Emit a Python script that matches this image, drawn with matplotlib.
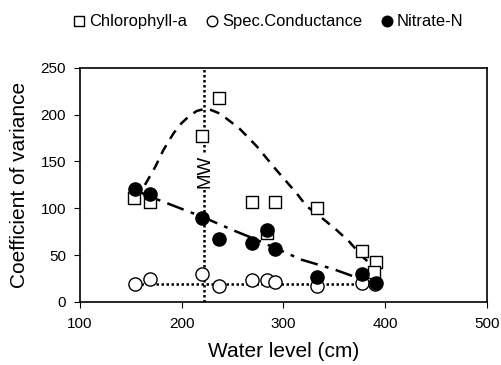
import matplotlib
matplotlib.use('Agg')
import matplotlib.pyplot as plt

plt.rcParams['font.family'] = ['Liberation Sans', 'DejaVu Sans']

# Water level (cm) of the sampling dates
chl_x = [153, 169, 220, 237, 269, 292, 284, 333, 377, 391, 389]
chl_y = [111, 107, 177, 218, 107, 107, 74, 100, 54, 43, 32]

no3_x = [154, 169, 220, 237, 269, 284, 292, 333, 377, 391]
no3_y = [121, 115, 90, 67, 63, 77, 56, 27, 30, 20]

cond_x = [154, 169, 220, 237, 269, 284, 292, 333, 377, 390]
cond_y = [19, 24, 30, 17, 23, 23, 21, 17, 20, 19]

# trend lines
chl_trend_x = [164, 174, 182, 192, 200, 208, 215, 222, 229, 238, 257, 274, 293, 313, 323, 333, 352, 365, 378, 390]
chl_trend_y = [125, 144, 162, 180, 191, 199, 204, 206, 205, 201, 185, 166, 141, 116, 102, 94, 77, 64, 48, 36]

no3_trend_x = [153, 170, 220, 254, 270, 318, 349, 390]
no3_trend_y = [120, 112, 91, 75, 68, 45, 35, 19]

cond_trend_x = [150, 390]
cond_trend_y = [19, 19]

mw_level = 222

fig = plt.figure(figsize=(5.02, 3.65), dpi=100)
ax = fig.add_axes([0.159, 0.173, 0.811, 0.641])

ax.plot(chl_trend_x, chl_trend_y, color='black', lw=1.8, ls=(0, (4, 3)))
ax.plot(no3_trend_x, no3_trend_y, color='black', lw=1.8, ls=(0, (7, 3, 1.5, 3)))
ax.plot(cond_trend_x, cond_trend_y, color='black', lw=1.8, ls=(0, (1, 1)))
ax.plot([mw_level, mw_level], [0, 250], color='black', lw=1.8, ls=(0, (1, 1)))

ax.text(mw_level + 1, 139, 'MW', rotation=90, ha='center', va='center', fontsize=13.5,
        bbox=dict(facecolor='white', edgecolor='none', pad=1))

ax.scatter(chl_x, chl_y, marker='s', s=80, facecolor='white', edgecolor='black', lw=1, zorder=3,
           label='Chlorophyll-a')
ax.scatter(cond_x, cond_y, marker='o', s=90, facecolor='white', edgecolor='black', lw=1, zorder=3,
           label='Spec.Conductance')
ax.scatter(no3_x, no3_y, marker='o', s=90, facecolor='black', edgecolor='black', lw=1, zorder=4,
           label='Nitrate-N')

ax.set_xlim(100, 500)
ax.set_ylim(0, 250)
ax.set_xticks([100, 200, 300, 400, 500])
ax.set_yticks([0, 50, 100, 150, 200, 250])
ax.tick_params(direction='out', length=4, labelsize=11)
ax.tick_params(axis='x', pad=7)
ax.tick_params(axis='y', pad=6)
for s in ax.spines.values():
    s.set_linewidth(1.2)

ax.set_xlabel('Water level (cm)', fontsize=15, labelpad=8)
ax.set_ylabel('Coefficient of variance', fontsize=15)
ax.yaxis.set_label_coords(-0.125, 0.5)

fig.legend(loc='center', bbox_to_anchor=(0.534, 0.942), ncol=3, frameon=False, fontsize=11.9,
           handlelength=0.8, handletextpad=0.2, columnspacing=1.1, markerscale=0.8,
           scatterpoints=1)

fig.savefig('out.png', dpi=100)
